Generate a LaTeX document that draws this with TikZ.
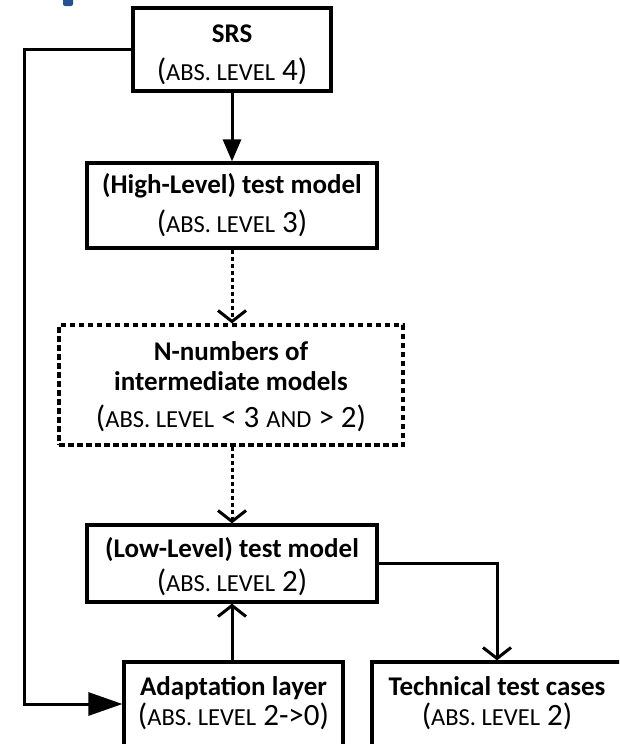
\documentclass[tikz,border=0pt]{standalone}
\usepackage{fontspec}
\setmainfont{Carlito}
\usetikzlibrary{arrows.meta}
\newcommand{\smc}[1]{{\fontsize{24.5}{30}\selectfont #1}}
\newcommand{\lvfont}{\fontsize{31}{38}\selectfont}
\newcommand{\ttfont}{\fontsize{27}{32}\selectfont\bfseries}
\definecolor{markblue}{HTML}{24518F}
\begin{document}
\begin{tikzpicture}[x=1pt,y=-1pt,
  box/.style={draw, line width=3.2pt, inner sep=0pt},
  dbox/.style={draw, line width=3.2pt, inner sep=0pt, dash pattern=on 5.5pt off 3.5pt},
  ttl/.style={anchor=base, inner sep=0pt, font=\ttfont},
  lvl/.style={anchor=base, inner sep=0pt, font=\lvfont},
  conn/.style={line width=3pt},
  filledhead/.style={conn, -{Triangle[length=22pt,width=18pt]}},
  bighead/.style={conn, -{Triangle[length=34pt,width=23pt]}},
  openhead/.style={conn, -{Straight Barb[length=11pt,width=28pt]}},
  dotline/.style={dash pattern=on 4pt off 3pt}
]
\useasboundingbox (0,0) rectangle (619,744);
\clip (0,0) rectangle (619,744);
\fill[white] (0,0) rectangle (619,744);
\fill[markblue, rounded corners=2pt] (63,-4) rectangle (73,6);

% boxes
\node[box, minimum width=198pt, minimum height=83pt] (srs) at (232,49.5) {};
\node[box, minimum width=290pt, minimum height=85pt] (high) at (232,205.5) {};
\node[dbox, minimum width=344pt, minimum height=120pt] (inter) at (231,385) {};
\node[box, minimum width=290pt, minimum height=77pt] (low) at (232,563.5) {};
\node[box, minimum width=219pt, minimum height=84pt] (adapt) at (233.5,704) {};
\node[box, minimum width=250pt, minimum height=84pt] (tech) at (497,704) {};

% texts
\node[ttl] (srs1) at (232,42) {SRS};
\node[lvl] (srs2) at (232,80) {(\smc{ABS. LEVEL} 4)};
\node[ttl] (high1) at (232,193) {(High-Level) test model};
\node[lvl] (high2) at (232,232) {(\smc{ABS. LEVEL} 3)};
\node[ttl] (inter1) at (231,360) {N-numbers of};
\node[ttl] (inter2) at (231,390) {intermediate models};
\node[lvl] (inter3) at (231,427) {(\smc{ABS. LEVEL} < 3 \smc{AND} > 2)};
\node[ttl] (low1) at (232,557) {(Low-Level) test model};
\node[lvl] (low2) at (232,591) {(\smc{ABS. LEVEL} 2)};
\node[ttl] (adapt1) at (233.5,695) {Adaptation layer};
\node[lvl] (adapt2) at (233.5,725) {(\smc{ABS. LEVEL} 2->0)};
\node[ttl] (tech1) at (497,695) {Technical test cases};
\node[lvl] (tech2) at (497,725) {(\smc{ABS. LEVEL} 2)};

% connectors
\coordinate (lp) at (24,0);
\draw[filledhead] (srs.south) -- (high.north);
\draw[openhead, dotline] (high.south) -- (high.south |- inter.north);
\draw[openhead, dotline] (low.north |- inter.south) -- (low.north);
\draw[openhead] (low.south |- adapt.north) -- (low.south);
\draw[openhead] (low.east) -| (tech.north);
\draw[bighead] (srs.west) -- (srs.west -| lp) |- (adapt.west);
\end{tikzpicture}
\end{document}
